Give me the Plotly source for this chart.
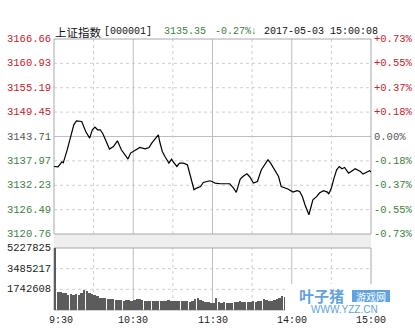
import plotly.graph_objects as go

# ---------------- data ----------------
price_times = ["09:30","09:33","09:36","09:37","09:40","09:42","09:45","09:47","09:50","09:51",
               "09:54","09:57","09:59","10:01","10:03","10:05","10:07","10:10","10:12","10:15",
               "10:18","10:21","10:26","10:28","10:33","10:35","10:39","10:42","10:44","10:47",
               "10:49","10:50","10:52","10:54","10:57","10:59","11:00","11:03","11:05","11:08",
               "11:11","11:14","11:16","11:18","11:21","11:23","11:26","11:28","11:30",
               "13:02","13:06","13:10","13:13","13:16","13:18","13:21","13:23","13:26","13:28",
               "13:31","13:34","13:37","13:40","13:42","13:44","13:47","13:50","13:52","13:55",
               "13:57","14:01","14:04","14:06","14:08","14:10","14:13","14:14","14:16","14:19",
               "14:21","14:24","14:27","14:28","14:30","14:32","14:34","14:36","14:38","14:40",
               "14:43","14:45","14:48","14:52","14:54","14:57","14:59","15:00"]
price_values = [3136.65,3136.58,3137.76,3137.52,3140.58,3142.93,3146.46,3147.40,3147.40,3147.24,
                3144.89,3143.33,3145.29,3145.92,3145.29,3145.29,3144.35,3142.16,3140.75,3141.36,
                3142.70,3140.58,3138.39,3139.81,3140.75,3141.12,3140.82,3141.12,3142.16,3143.33,
                3144.11,3142.53,3140.18,3139.01,3137.45,3138.39,3137.83,3136.65,3137.45,3137.45,
                3137.05,3133.53,3131.17,3131.57,3131.95,3132.89,3133.13,3133.29,3133.05,
                3132.75,3132.59,3132.59,3132.59,3131.57,3130.54,3133.69,3134.30,3134.94,3134.30,
                3132.75,3133.13,3135.88,3137.45,3138.23,3137.45,3135.88,3134.30,3131.95,3131.57,
                3131.34,3130.63,3130.94,3130.77,3129.60,3127.65,3125.29,3126.47,3128.82,3129.60,
                3130.40,3130.94,3130.63,3130.16,3131.57,3133.93,3135.88,3136.65,3136.11,3136.42,
                3135.10,3135.48,3136.11,3135.48,3134.87,3135.34,3135.64,3135.35]

price_ticks = [3120.76, 3126.49, 3132.23, 3137.97, 3143.71, 3149.45, 3155.19, 3160.93, 3166.66]
price_labels = ["3120.76","3126.49","3132.23","3137.97","3143.71","3149.45","3155.19","3160.93","3166.66"]
pct_labels = ["-0.73%","-0.55%","-0.37%","-0.18%","0.00%","+0.18%","+0.37%","+0.55%","+0.73%"]
prev_close = 3143.71

vol_ticks = [1742608, 3485217, 5227825]
vol_labels = ["1742608", "3485217", "5227825"]
# 2-minute volume bars (millions of shares)
vol_millions = [5.20,1.55,1.50,1.45,1.40,1.30,1.35,1.30,1.32,1.25,
                1.45,1.65,1.60,1.45,1.35,1.30,1.15,1.05,1.00,1.05,
                0.95,0.95,0.90,0.85,0.88,0.85,0.80,0.85,0.82,0.80,
                0.85,0.90,0.95,0.85,0.80,0.75,0.78,0.72,0.75,0.75,
                0.78,0.80,0.75,0.82,0.78,0.80,0.75,0.72,0.80,0.78,
                0.75,0.70,0.72,0.90,1.00,0.85,0.75,0.70,0.65,0.62,
                0.60,1.05,0.70,0.60,0.65,0.58,0.62,0.55,0.65,0.70,
                0.72,0.65,0.68,0.66,0.70,0.72,0.70,0.75,0.80,0.90,
                0.85,0.80,0.78,0.85,0.95,1.05,1.20,1.10,0.95,0.90,
                0.85,0.80,0.75,0.85,0.90,0.80,0.78,0.82,0.75,0.72,
                0.70,0.75,0.80,0.85,0.90,0.88,0.80,0.78,0.75,0.72,
                0.70,0.75,0.78,0.80,0.85,0.88,0.90,0.95,1.00,1.10]

x_label_times = ["09:30","10:30","11:30","14:00","15:00"]
x_labels = ["9:30","10:30","11:30","14:00","15:00"]
solid_vgrid = ["10:30","11:30","14:00"]
dashed_vgrid = ["10:00","11:00","13:30","14:30"]

title_name = "上证指数"
title_code = "[000001]"
title_price = "3135.35"
title_change = "-0.27%↓"
title_time = "2017-05-03 15:00:08"


def tidx(t):
    h, m = map(int, t.split(":"))
    mins = h * 60 + m
    if mins <= 690:
        return mins - 570
    return mins - 780 + 120


# ---------------- layout helpers (pixels -> paper) ----------------
W, H = 415, 330
L, R, T, B = 54, 371, 39, 310
PW, PH = R - L, B - T


def px(xp):
    return (xp - L) / PW


def py(yp):
    return (B - yp) / PH


price_bottom_px = 234
vol_top_px = 248

RED = "#c8202a"
GREEN = "#3d7f3d"
GRAY = "#555555"
MONO = "Liberation Mono, DejaVu Sans Mono, monospace"
BLUE = "#5fa3e0"

fig = go.Figure()

fig.add_trace(go.Bar(
    x=[2 * i + 1 for i in range(len(vol_millions))],
    y=[v * 1e6 for v in vol_millions],
    width=1.45, marker=dict(color="#5c5c5c", line=dict(width=0)),
    xaxis="x2", yaxis="y2", hoverinfo="skip", showlegend=False,
))

fig.add_trace(go.Scatter(
    x=[tidx(t) for t in price_times], y=price_values, mode="lines",
    line=dict(color="#000000", width=1.2), xaxis="x", yaxis="y",
    hoverinfo="skip", showlegend=False,
))

shapes = []
# band between panels
shapes.append(dict(type="rect", xref="paper", yref="paper", x0=0, x1=1,
                   y0=py(price_bottom_px), y1=py(vol_top_px),
                   fillcolor="#eeeeee", line=dict(width=0), layer="below"))

# horizontal grid price
for v in price_ticks[1:-1]:
    solid = abs(v - prev_close) < 1e-6
    shapes.append(dict(type="line", xref="x domain", yref="y", x0=0, x1=1, y0=v, y1=v,
                       line=dict(color="#bdbdbd" if solid else "#cfcfcf", width=1,
                                 dash="solid" if solid else "dot"), layer="below"))
# horizontal grid volume
for v in vol_ticks[:-1]:
    shapes.append(dict(type="line", xref="x2 domain", yref="y2", x0=0, x1=1, y0=v, y1=v,
                       line=dict(color="#cfcfcf", width=1, dash="dot"), layer="below"))

# vertical grids
for ax_x, ax_y in (("x", "y domain"), ("x2", "y2 domain")):
    for t in solid_vgrid:
        shapes.append(dict(type="line", xref=ax_x, yref=ax_y, x0=tidx(t), x1=tidx(t), y0=0, y1=1,
                           line=dict(color="#bdbdbd", width=1), layer="below"))
    for t in dashed_vgrid:
        shapes.append(dict(type="line", xref=ax_x, yref=ax_y, x0=tidx(t), x1=tidx(t), y0=0, y1=1,
                           line=dict(color="#cfcfcf", width=1, dash="dot"), layer="below"))

# frames
shapes.append(dict(type="rect", xref="x domain", yref="y domain", x0=0, x1=1, y0=0, y1=1,
                   line=dict(color="#a8a8a8", width=1), layer="below"))
shapes.append(dict(type="rect", xref="x2 domain", yref="y2 domain", x0=0, x1=1, y0=0, y1=1,
                   line=dict(color="#a8a8a8", width=1), layer="below"))

# watermark box
shapes.append(dict(type="rect", xref="paper", yref="paper", x0=px(285), x1=px(396),
                   y0=py(316), y1=py(284), fillcolor="white", line=dict(width=0), layer="above"))
shapes.append(dict(type="rect", xref="paper", yref="paper", x0=px(352), x1=px(390),
                   y0=py(302), y1=py(290), fillcolor=BLUE, line=dict(width=0), layer="above"))

ann = []
for v, lab, pl in zip(price_ticks, price_labels, pct_labels):
    if v > prev_close + 1e-6:
        c = RED
    elif v < prev_close - 1e-6:
        c = GREEN
    else:
        c = GRAY
    ann.append(dict(x=0, xref="paper", y=v, yref="y", text=lab, showarrow=False,
                    xanchor="right", yanchor="middle", xshift=-1,
                    font=dict(family=MONO, size=10.5, color=c)))
    ann.append(dict(x=1, xref="paper", y=v, yref="y", text=pl, showarrow=False,
                    xanchor="left", yanchor="middle", xshift=1,
                    font=dict(family=MONO, size=10.5, color=c)))

for v, lab in zip(vol_ticks, vol_labels):
    ann.append(dict(x=0, xref="paper", y=v, yref="y2", text=lab, showarrow=False,
                    xanchor="right", yanchor="middle", xshift=-1,
                    font=dict(family=MONO, size=10.5, color="#222222")))

for t, lab in zip(x_label_times, x_labels):
    ann.append(dict(x=tidx(t), xref="x2", y=py(321), yref="paper", text=lab, showarrow=False,
                    xanchor="left" if t == "09:30" else "center", yanchor="middle",
                    xshift=-7 if t == "09:30" else 0,
                    font=dict(family=MONO, size=10, color="#222222")))

ty = py(32)
ann.append(dict(x=px(53), xref="paper", y=ty, yref="paper", text=title_name, showarrow=False,
                xanchor="left", yanchor="middle",
                font=dict(family="Noto Sans CJK SC", size=11.5, color="#111111")))
ann.append(dict(x=px(102), xref="paper", y=ty, yref="paper", text=title_code, showarrow=False,
                xanchor="left", yanchor="middle",
                font=dict(family=MONO, size=10, color="#111111")))
ann.append(dict(x=px(162), xref="paper", y=ty, yref="paper", text=title_price, showarrow=False,
                xanchor="left", yanchor="middle",
                font=dict(family=MONO, size=10, color=GREEN)))
ann.append(dict(x=px(213), xref="paper", y=ty, yref="paper", text=title_change, showarrow=False,
                xanchor="left", yanchor="middle",
                font=dict(family="Liberation Mono, Noto Sans CJK SC", size=10, color=GREEN)))
ann.append(dict(x=px(262), xref="paper", y=ty, yref="paper", text=title_time, showarrow=False,
                xanchor="left", yanchor="middle",
                font=dict(family=MONO, size=10, color="#111111")))

# watermark text
ann.append(dict(x=px(321), xref="paper", y=py(295), yref="paper", text="<b>叶子猪</b>",
                showarrow=False, xanchor="center", yanchor="middle",
                font=dict(family="Noto Sans CJK SC", size=15, color=BLUE)))
ann.append(dict(x=px(371), xref="paper", y=py(296), yref="paper", text="游戏网",
                showarrow=False, xanchor="center", yanchor="middle",
                font=dict(family="Noto Sans CJK SC", size=10, color="white")))
ann.append(dict(x=px(344), xref="paper", y=py(309.5), yref="paper", text="WWW.YZZ.CN",
                showarrow=False, xanchor="center", yanchor="middle",
                font=dict(family="Liberation Sans", size=10, color=BLUE)))

axis_common = dict(showgrid=False, zeroline=False, showticklabels=False, ticks="",
                   showline=False, fixedrange=True)

fig.update_layout(
    width=W, height=H, autosize=False,
    margin=dict(l=L, r=W - R, t=T, b=H - B, pad=0),
    paper_bgcolor="white", plot_bgcolor="white",
    xaxis=dict(domain=[0, 1], range=[0, 240], anchor="y", **axis_common),
    xaxis2=dict(domain=[0, 1], range=[0, 240], anchor="y2", matches="x", **axis_common),
    yaxis=dict(domain=[py(price_bottom_px), 1], range=[price_ticks[0], price_ticks[-1]],
               anchor="x", **axis_common),
    yaxis2=dict(domain=[0, py(vol_top_px)], range=[0, vol_ticks[-1]], anchor="x2", **axis_common),
    shapes=shapes, annotations=ann, bargap=0, showlegend=False,
)

fig.write_html("out.html")
